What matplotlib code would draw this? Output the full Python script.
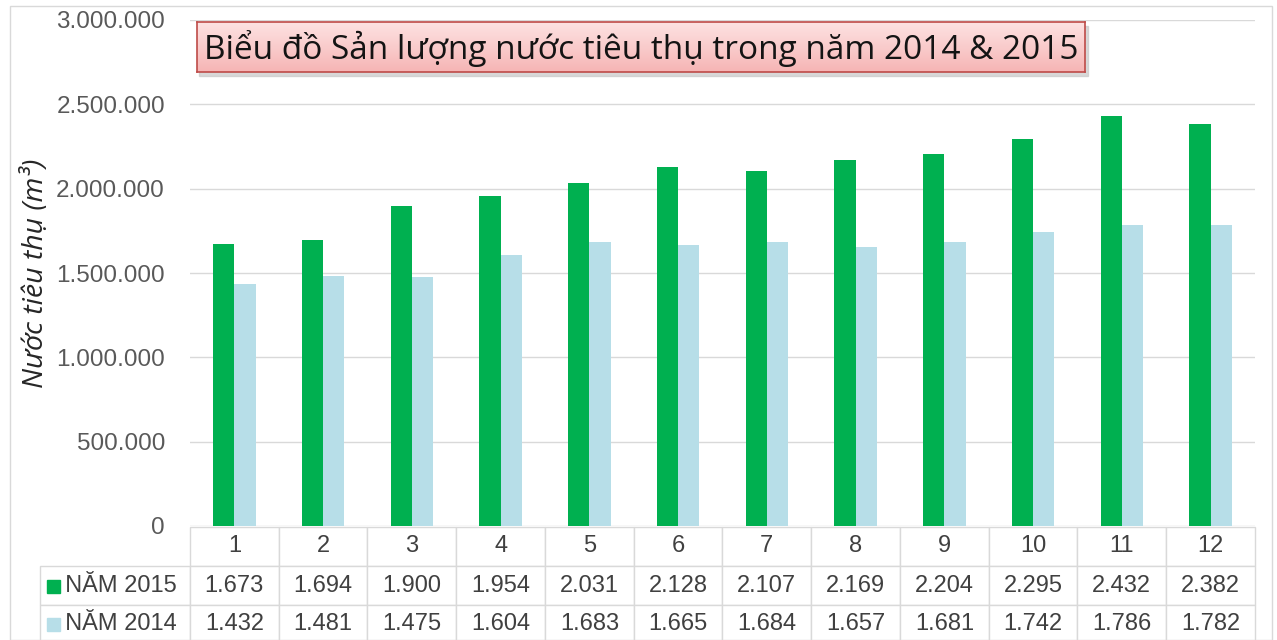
import numpy as np
import matplotlib
matplotlib.use('Agg')
import matplotlib.pyplot as plt
from matplotlib.patches import Rectangle
from matplotlib.colors import LinearSegmentedColormap

months = ['1', '2', '3', '4', '5', '6', '7', '8', '9', '10', '11', '12']
nam_2015 = [1673, 1694, 1900, 1954, 2031, 2128, 2107, 2169, 2204, 2295, 2432, 2382]
nam_2014 = [1432, 1481, 1475, 1604, 1683, 1665, 1684, 1657, 1681, 1742, 1786, 1782]
series_names = ['NĂM 2015', 'NĂM 2014']
series_colors = ['#00B050', '#B7DEE8']
title = 'Biểu đồ Sản lượng nước tiêu thụ trong năm 2014 & 2015'
ylabel = 'Nước tiêu thụ (m³)'

W, H = 1277, 640
fig = plt.figure(figsize=(W / 100, H / 100), dpi=100)
plt.rcParams['font.family'] = ['Liberation Sans', 'DejaVu Sans']

def fx(px):
    return px / W

def fy(py):
    return 1 - py / H

# outer chart frame
fig.patches.append(Rectangle((fx(10), fy(640)), fx(1272) - fx(10), fy(6) - fy(640),
                             transform=fig.transFigure, fill=False,
                             edgecolor='#D9D9D9', lw=1, zorder=0))

ax = fig.add_axes([fx(190), fy(526), fx(1255) - fx(190), fy(20) - fy(526)])
x = np.arange(len(months))
vals15 = np.array(nam_2015) * 1000
vals14 = np.array(nam_2014) * 1000
bw = 0.24
ax.bar(x - bw / 2, vals15, bw, color=series_colors[0], zorder=3)
ax.bar(x + bw / 2, vals14, bw, color=series_colors[1], zorder=3)
ax.set_xlim(-0.5, len(months) - 0.5)
ax.set_ylim(0, 3000000)
ax.set_yticks(np.arange(0, 3000001, 500000))
ax.set_yticklabels(['0' if v == 0 else f'{v:,}'.replace(',', '.') for v in range(0, 3000001, 500000)])
ax.tick_params(axis='y', length=0, pad=18, labelsize=17.5, labelcolor='#595959')
ax.set_xticks([])
for s in ax.spines.values():
    s.set_visible(False)
ax.yaxis.grid(True, color='#D9D9D9', lw=1, zorder=0)
ax.set_axisbelow(True)

ax.set_ylabel(ylabel, family=['Open Sans', 'DejaVu Sans'], style='italic',
              fontsize=20.5, color='#262626')
ax.yaxis.set_label_coords(-0.131, 0.5)

# data table under the chart
cell_text = [[''] + months,
             ['  ' + series_names[0]] + [f'{v / 1000:.3f}' for v in nam_2015],
             ['  ' + series_names[1]] + [f'{v / 1000:.3f}' for v in nam_2014]]
col_w = [150] + [88.75] * 12
ax_w = 1255 - 190
ax_h = 526 - 20
tbl = ax.table(cellText=cell_text, colWidths=[c / sum(col_w) for c in col_w],
               cellLoc='center',
               bbox=[(40 - 190) / ax_w, -(644 - 526) / ax_h, (1255 - 40) / ax_w, (644 - 527) / ax_h])
tbl.auto_set_font_size(False)
for (r, c), cell in tbl.get_celld().items():
    cell.set_edgecolor('#D9D9D9')
    cell.set_linewidth(1)
    cell.get_text().set_fontsize(17)
    cell.get_text().set_color('#404040')
    if c == 0:
        cell.PAD = 0.08
        cell.get_text().set_ha('left')
        cell._loc = 'left'
    if r == 0 and c == 0:
        cell.visible_edges = ''
# legend keys in the table
for i, col in enumerate(series_colors):
    yc = 586 + i * 38
    fig.patches.append(Rectangle((fx(47), fy(yc + 7)), fx(13), fy(0) - fy(13),
                                 transform=fig.transFigure, color=col, zorder=5))

# title box with gradient and a soft shadow
shadow = Rectangle((fx(199), fy(76)), fx(889), fy(0) - fy(50),
                   transform=fig.transFigure, color='#c8c8c8', alpha=0.7, zorder=1)
fig.patches.append(shadow)
tax = fig.add_axes([fx(197), fy(72), fx(1085) - fx(197), fy(22) - fy(72)], zorder=5)
cmap = LinearSegmentedColormap.from_list('pink', ['#FDE2E2', '#F6B5B5'])
tax.imshow(np.linspace(0, 1, 50).reshape(-1, 1), aspect='auto', cmap=cmap,
           extent=[0, 1, 0, 1], origin='upper')
tax.set_xticks([])
tax.set_yticks([])
for s in tax.spines.values():
    s.set_edgecolor('#BE4B48')
    s.set_linewidth(1.2)
tax.text(0.5, 0.47, title, ha='center', va='center', fontsize=24,
         family=['Open Sans', 'DejaVu Sans'], color='#141414')

fig.savefig('out.png', dpi=100)
